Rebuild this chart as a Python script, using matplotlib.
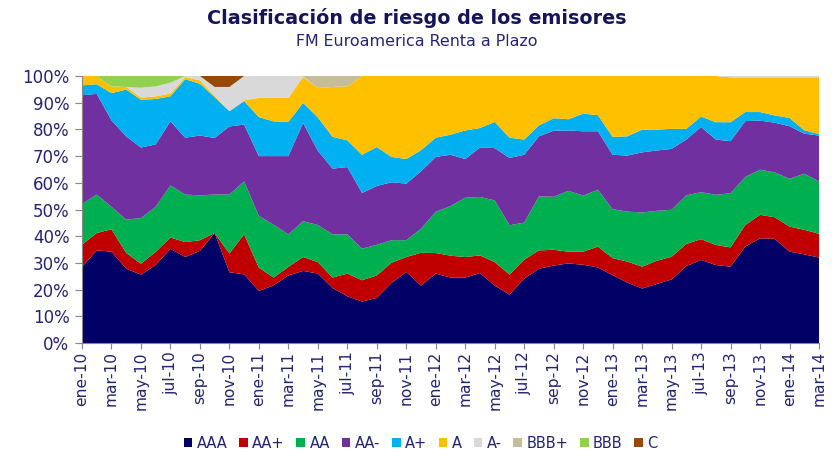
import matplotlib
matplotlib.use("Agg")
import matplotlib.pyplot as plt
from matplotlib.patches import Patch
import numpy as np

months_es = ["ene", "feb", "mar", "abr", "may", "jun", "jul", "ago", "sep", "oct", "nov", "dic"]
dates = [f"{months_es[m % 12]}-{10 + m // 12}" for m in range(51)]

series_names = ["AAA", "AA+", "AA", "AA-", "A+", "A", "A-", "BBB+", "BBB", "C"]
colors = ["#000066", "#C00000", "#00B050", "#7030A0", "#00B0F0",
          "#FFC000", "#D9D9D9", "#C4BD97", "#92D050", "#984807"]

AAA = [28.5, 34.7, 34.2, 27.8, 25.6, 29.2, 35.3, 32.2, 34.5, 41.2,
       26.5, 25.7, 19.5, 21.6, 25.3, 27.0, 26.0, 20.6, 17.5, 15.5,
       16.9, 22.5, 26.6, 21.5, 26.0, 24.5, 24.5, 26.2, 21.5, 18.1,
       24.1, 27.8, 29.0, 29.8, 29.3, 28.3, 25.4, 22.6, 20.4, 22.1,
       23.8, 28.8, 31.1, 29.2, 28.6, 36.1, 39.2, 39.0, 34.2, 33.2, 32.0]
AA_plus = [8.3, 6.5, 8.4, 5.9, 4.1, 4.9, 4.2, 5.6, 4.0, 0.0,
           7.0, 15.0, 8.7, 2.9, 3.2, 5.2, 4.3, 3.9, 8.5, 8.0,
           8.4, 7.6, 5.6, 12.3, 7.7, 8.2, 7.7, 6.6, 8.8, 7.5,
           7.1, 6.9, 5.9, 4.4, 4.9, 7.8, 6.4, 7.9, 8.2, 8.7,
           8.5, 8.3, 7.8, 7.5, 7.2, 8.1, 8.8, 8.1, 9.4, 9.2, 8.9]
AA = [15.2, 14.4, 8.4, 12.5, 17.1, 16.9, 19.5, 17.8, 16.8, 14.4,
      22.1, 19.8, 19.4, 19.8, 12.2, 13.4, 13.9, 16.2, 14.7, 11.8,
      11.5, 8.4, 6.3, 9.0, 15.4, 18.6, 22.2, 21.9, 23.1, 18.5,
      13.9, 20.2, 19.9, 22.8, 21.0, 21.3, 18.3, 18.7, 20.3, 18.7,
      17.6, 18.2, 17.6, 18.8, 20.3, 18.0, 16.9, 16.8, 17.9, 21.0, 19.6]
AA_minus = [40.8, 37.7, 32.4, 31.2, 26.4, 23.4, 24.0, 21.3, 22.4, 21.2,
            25.5, 21.3, 22.4, 25.7, 29.3, 36.8, 27.8, 24.6, 25.2, 20.9,
            22.0, 21.7, 21.2, 21.5, 20.6, 19.2, 14.5, 18.5, 19.6, 25.2,
            25.4, 22.5, 24.7, 22.6, 24.1, 21.9, 20.4, 21.0, 22.5, 22.6,
            22.8, 20.9, 24.4, 20.7, 19.5, 20.9, 18.4, 18.6, 19.7, 15.0, 17.2]
A_plus = [3.7, 3.6, 10.2, 17.5, 17.9, 17.0, 9.4, 21.9, 19.4, 15.3,
          5.7, 8.8, 14.6, 13.0, 12.8, 7.5, 12.5, 11.9, 10.0, 14.3,
          14.6, 9.5, 9.2, 7.9, 7.2, 7.5, 10.7, 7.3, 9.8, 7.6,
          5.7, 4.1, 4.7, 4.2, 6.6, 6.0, 6.7, 7.2, 8.5, 7.8,
          7.5, 4.0, 3.9, 6.5, 7.1, 3.4, 3.2, 2.7, 3.1, 1.3, 0.5]
A = [3.5, 3.1, 2.5, 1.0, 0.8, 1.0, 1.0, 0.8, 1.3, 0.4,
     0.0, 0.3, 7.2, 8.8, 9.0, 9.7, 11.0, 18.7, 20.2, 29.5,
     26.6, 30.3, 31.1, 27.8, 23.1, 22.0, 20.4, 19.5, 17.2, 23.1,
     23.8, 18.5, 15.8, 16.2, 14.1, 14.7, 22.8, 22.6, 20.1, 20.1,
     19.8, 19.8, 15.2, 17.3, 16.8, 13.0, 13.0, 14.3, 15.2, 19.8, 21.3]
A_minus = [0, 0, 0, 0, 3.7, 3.7, 4.1, 0.4, 1.6, 3.4,
           9.1, 9.1, 8.2, 8.2, 8.2, 0.2, 0, 0, 0, 0,
           0, 0, 0, 0, 0, 0, 0, 0, 0, 0,
           0, 0, 0, 0, 0, 0, 0, 0, 0, 0,
           0, 0, 0, 0, 0.5, 0.5, 0.5, 0.5, 0.5, 0.5, 0.5]
BBB_plus = [0, 0, 0, 0, 0, 0, 0, 0, 0, 0,
            0, 0, 0, 0, 0, 0.2, 4.5, 4.1, 3.9, 0,
            0, 0, 0, 0, 0, 0, 0, 0, 0, 0,
            0, 0, 0, 0, 0, 0, 0, 0, 0, 0,
            0, 0, 0, 0, 0, 0, 0, 0, 0, 0, 0]
BBB = [0, 0, 3.9, 4.1, 4.4, 3.9, 2.5, 0, 0, 0,
       0, 0, 0, 0, 0, 0, 0, 0, 0, 0,
       0, 0, 0, 0, 0, 0, 0, 0, 0, 0,
       0, 0, 0, 0, 0, 0, 0, 0, 0, 0,
       0, 0, 0, 0, 0, 0, 0, 0, 0, 0, 0]
C = [0, 0, 0, 0, 0, 0, 0, 0, 0, 4.1,
     4.1, 0, 0, 0, 0, 0, 0, 0, 0, 0,
     0, 0, 0, 0, 0, 0, 0, 0, 0, 0,
     0, 0, 0, 0, 0, 0, 0, 0, 0, 0,
     0, 0, 0, 0, 0, 0, 0, 0, 0, 0, 0]

series = [AAA, AA_plus, AA, AA_minus, A_plus, A, A_minus, BBB_plus, BBB, C]

txt = "#232375"
plt.rcParams['font.family'] = ['DejaVu Sans']

fig = plt.figure(figsize=(8.33, 4.73), dpi=100)
ax = fig.add_axes([82/833, 1 - 343/473, (819 - 82)/833, (343 - 76)/473])

x = np.arange(len(dates))
ax.stackplot(x, *series, colors=colors, labels=series_names, linewidth=0)

ax.set_xlim(0, len(dates) - 1)
ax.set_ylim(0, 100)
ax.set_xticks(x[::2])
ax.set_xticklabels(dates[::2], rotation=90, fontsize=11.2, color=txt)
yt = np.arange(0, 101, 10)
ax.set_yticks(yt)
ax.set_yticklabels([f"{v}%" for v in yt], fontsize=12, color=txt)
ax.tick_params(axis='x', direction='out', length=4, color='#888888', pad=2)
ax.tick_params(axis='y', direction='out', length=5, color='#888888', pad=4)
for s in ['top', 'right']:
    ax.spines[s].set_visible(False)
for s in ['left', 'bottom']:
    ax.spines[s].set_color('#888888')
    ax.spines[s].set_linewidth(0.8)

fig.text(0.5, 1 - 18/473, "Clasificación de riesgo de los emisores", ha='center', va='center',
         fontsize=13.8, fontweight='bold', color="#14145A")
fig.text(0.5, 1 - 41/473, "FM Euroamerica Renta a Plazo", ha='center', va='center',
         fontsize=11.4, color=txt)

handles = [Patch(facecolor=c, edgecolor='none') for c in colors]
leg = fig.legend(handles, series_names, loc='center', bbox_to_anchor=(0.505, 1 - 443/473),
                 ncol=10, frameon=False, fontsize=10.5, handlelength=0.6, handleheight=0.6,
                 handletextpad=0.3, columnspacing=0.8)
for t in leg.get_texts():
    t.set_color(txt)

fig.savefig("out.png", dpi=100)
